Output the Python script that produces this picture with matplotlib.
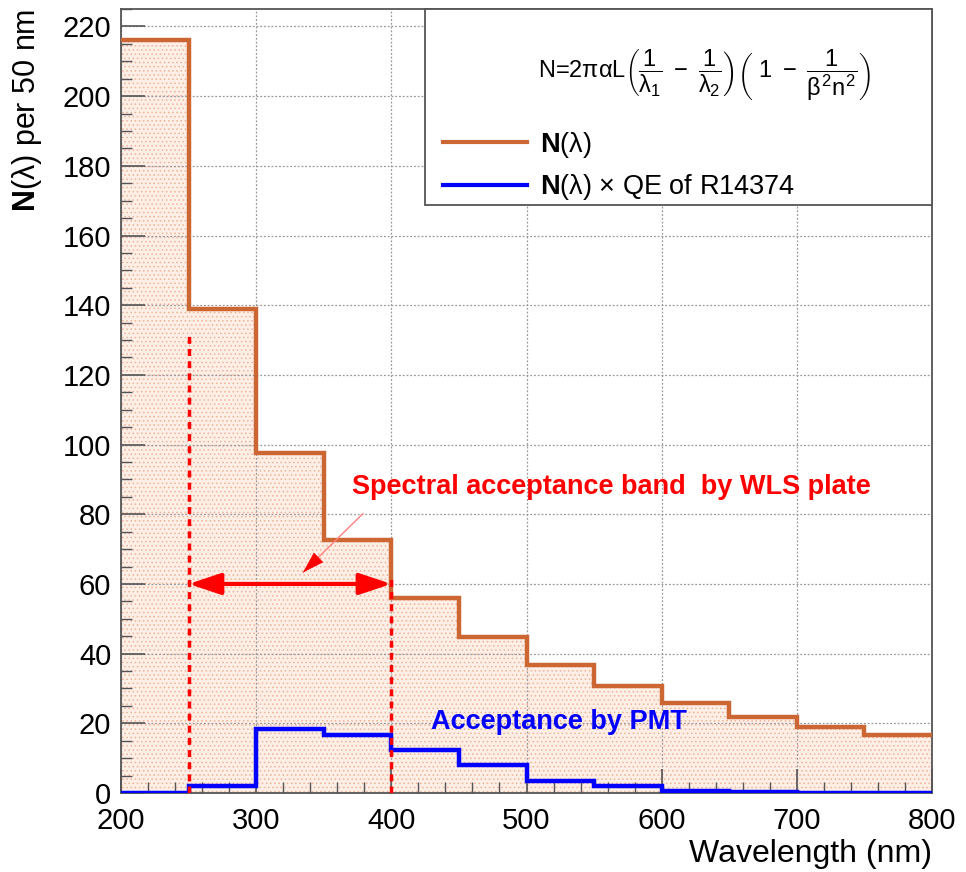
import numpy as np
import matplotlib
matplotlib.use("Agg")
import matplotlib.pyplot as plt
from matplotlib.lines import Line2D
from matplotlib.patches import Rectangle

plt.rcParams['font.family'] = ['Liberation Sans', 'DejaVu Sans']
plt.rcParams['mathtext.fontset'] = 'custom'
plt.rcParams['mathtext.rm'] = 'Liberation Sans'
plt.rcParams['mathtext.it'] = 'Liberation Sans'
plt.rcParams['mathtext.bf'] = 'Liberation Sans:bold'
plt.rcParams['hatch.linewidth'] = 0.6

# bin edges (nm) and contents
edges = [200, 250, 300, 350, 400, 450, 500, 550, 600, 650, 700, 750, 800]
n_lambda = [216, 139, 97.7, 72.7, 56.1, 44.8, 36.7, 30.6, 25.8, 21.8, 18.9, 16.6]
n_qe = [0.0, 2.0, 18.4, 16.7, 12.4, 8.0, 3.5, 2.0, 0.7, 0.15, 0.1, 0.05]

# WLS acceptance band markers
band_x = [250, 400]
band_top = [132, 62]
arrow_y = 60

orange = '#cc6633'
blue = '#0000ff'

fig = plt.figure(figsize=(9.66, 8.72), dpi=100)
ax = fig.add_axes([0.1253, 0.0906, 0.8395, 0.899])

ax.stairs(n_lambda, edges, fill=True, facecolor='#fdeee6', edgecolor='#eeb49a',
          hatch='....', linewidth=0)
ax.stairs(n_lambda, edges, baseline=None, color=orange, linewidth=3.2, zorder=3)
ax.stairs(n_qe, edges, baseline=None, color=blue, linewidth=3.2, zorder=4)

# red band lines and double arrow
for xv, top in zip(band_x, band_top):
    ax.plot([xv, xv], [0, top], color='red', linestyle=(0, (2, 1.5)), linewidth=2.5, zorder=5)
ax.annotate('', xy=(band_x[0], arrow_y), xytext=(band_x[1], arrow_y),
            arrowprops=dict(arrowstyle='<|-|>,head_length=1.95,head_width=0.65',
                            color='red', lw=3, shrinkA=0, shrinkB=0), zorder=6)
ax.annotate('', xy=(334.6, 63.3), xytext=(379, 80.2),
            arrowprops=dict(arrowstyle='-', color='#ff8080', lw=1,
                            shrinkA=0, shrinkB=0), zorder=6)
ax.annotate('', xy=(334.6, 63.3), xytext=(345, 67.2),
            arrowprops=dict(arrowstyle='-|>,head_length=1.45,head_width=0.45',
                            color='red', lw=0.5, shrinkA=0, shrinkB=0), zorder=6)

ax.text(563, 87.7, 'Spectral acceptance band  by WLS plate', color='red',
        fontsize=19.5, fontweight='bold', ha='center', va='center')
ax.text(524, 20.4, 'Acceptance by PMT', color=blue,
        fontsize=19.5, fontweight='bold', ha='center', va='center')

ax.set_xlim(200, 800)
ax.set_ylim(0, 225)
ax.set_xticks(np.arange(200, 801, 100))
ax.set_xticks(np.arange(200, 801, 20), minor=True)
ax.set_yticks(np.arange(0, 221, 20))
ax.set_yticks(np.arange(0, 226, 5), minor=True)
ax.tick_params(which='both', direction='in', labelsize=21, top=False, right=False)
ax.tick_params(axis='x', which='major', pad=10)
ax.tick_params(axis='y', which='major', pad=7)
ax.tick_params(which='major', length=17, width=1.2, color='#555555')
ax.tick_params(which='minor', length=8, width=1.0, color='#555555')
ax.grid(True, which='major', color='#999999', linestyle=(0, (1.5, 1.5)), linewidth=0.9)
for sp in ax.spines.values():
    sp.set_color('#555555')
    sp.set_linewidth(1.3)

ax.set_xlabel('Wavelength (nm)', fontsize=23, loc='right', labelpad=3)
ax.set_ylabel(r'$\mathbf{N}$($\lambda$) per 50 nm', fontsize=22, loc='top')
ax.yaxis.set_label_coords(-0.095, 1.0)

# legend box
box = Rectangle((0.375, 0.75), 0.625, 0.25, transform=ax.transAxes, facecolor='white',
                edgecolor='#555555', linewidth=1.3, zorder=8, clip_on=False)
ax.add_patch(box)

handles = [Line2D([], [], color=orange, lw=3),
           Line2D([], [], color=blue, lw=3)]
labels = [r'$\mathbf{N}$($\lambda$)', r'$\mathbf{N}$($\lambda$) $\times$ QE of R14374']
leg = ax.legend(handles, labels, loc='upper left', bbox_to_anchor=(0.397, 0.846),
                fontsize=19.5, frameon=False, handlelength=3.1,
                borderaxespad=0, borderpad=0, labelspacing=0.45, handletextpad=0.5)
leg.set_zorder(10)

ax.text(0.72, 0.915,
        r'N=2$\pi\alpha$L$\left(\dfrac{1}{\lambda_1}\ -\ \dfrac{1}{\lambda_2}\right)\left(\ 1\ -\ \dfrac{1}{\beta^2 n^2}\right)$',
        transform=ax.transAxes, fontsize=17, ha='center', va='center', zorder=11)

fig.savefig('out.png', dpi=100)
